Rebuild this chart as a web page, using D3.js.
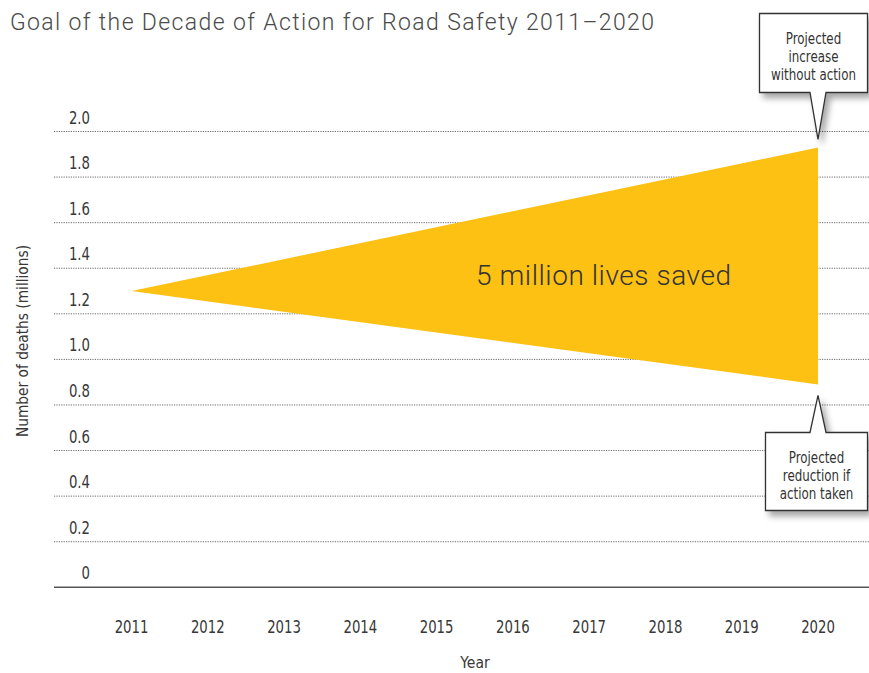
<!DOCTYPE html>
<html>
<head>
<meta charset="utf-8">
<script src="https://cdn.jsdelivr.net/npm/d3@7"></script>
<style>
  html, body { margin: 0; padding: 0; background: #fff; }
  svg { display: block; }
  .cond { font-family: "Liberation Sans Narrow", "DejaVu Sans Condensed", "Roboto Condensed", sans-serif; }
  .din { font-family: Roboto, "DejaVu Sans", sans-serif; font-weight: 300; }
</style>
</head>
<body>
<svg id="chart" width="869" height="673"></svg>
<script>
// ---- data ----
const years = [2011, 2012, 2013, 2014, 2015, 2016, 2017, 2018, 2019, 2020];
const yTicks = [0, 0.2, 0.4, 0.6, 0.8, 1.0, 1.2, 1.4, 1.6, 1.8, 2.0];
const yTickLabels = ["0", "0.2", "0.4", "0.6", "0.8", "1.0", "1.2", "1.4", "1.6", "1.8", "2.0"];
const projYears = [2011, 2020];
const withoutAction = [1.3, 1.93];   // projected increase without action (millions)
const withAction = [1.3, 0.89];      // projected reduction if action taken (millions)
const titleText = "Goal of the Decade of Action for Road Safety 2011\u20132020";
const areaLabel = "5 million lives saved";
const calloutTop = ["Projected", "increase", "without action"];
const calloutBottom = ["Projected", "reduction if", "action taken"];

// ---- layout ----
const svg = d3.select("#chart");
const x = d3.scaleLinear().domain([2011, 2020]).range([131.5, 818]);
const y = d3.scaleLinear().domain([0, 2]).range([587.3, 131.5]);
const gridX0 = 54, gridX1 = 869;

const defs = svg.append("defs");
const f = defs.append("filter").attr("id", "shadow")
  .attr("x", "-20%").attr("y", "-20%").attr("width", "160%").attr("height", "160%");
f.append("feDropShadow").attr("dx", 4).attr("dy", 5).attr("stdDeviation", 3)
  .attr("flood-color", "#000").attr("flood-opacity", 0.35);

// title
svg.append("text").attr("class", "din")
  .attr("x", 10).attr("y", 30)
  .attr("font-size", 23).attr("fill", "#4a4a4a")
  .attr("textLength", 644).attr("lengthAdjust", "spacing")
  .text(titleText);

// gridlines
svg.append("g").selectAll("line").data(yTicks.filter(d => d > 0)).join("line")
  .attr("x1", gridX0).attr("x2", gridX1)
  .attr("y1", d => y(d)).attr("y2", d => y(d))
  .attr("stroke", "#6a6a6a").attr("stroke-width", 1)
  .attr("stroke-dasharray", "1.2,1.2");

// baseline
svg.append("line")
  .attr("x1", gridX0).attr("x2", gridX1)
  .attr("y1", y(0)).attr("y2", y(0))
  .attr("stroke", "#555").attr("stroke-width", 1.6);

// y tick labels
svg.append("g").selectAll("text").data(yTicks).join("text")
  .attr("class", "cond")
  .attr("transform", d => `translate(90,${y(d) - 8}) scale(0.82,1)`)
  .attr("text-anchor", "end")
  .attr("font-size", 18).attr("fill", "#383838")
  .text((d, i) => yTickLabels[i]);

// x tick labels
svg.append("g").selectAll("text").data(years).join("text")
  .attr("class", "cond")
  .attr("transform", d => `translate(${x(d)},633) scale(0.82,1)`)
  .attr("text-anchor", "middle")
  .attr("font-size", 18).attr("fill", "#383838")
  .text(d => d);

// axis titles
svg.append("text").attr("class", "cond")
  .attr("x", 475).attr("y", 668).attr("text-anchor", "middle")
  .attr("font-size", 15.5).attr("fill", "#383838").text("Year");
svg.append("text").attr("class", "cond")
  .attr("transform", "translate(28,341) rotate(-90)")
  .attr("text-anchor", "middle")
  .attr("font-size", 15.5).attr("fill", "#383838")
  .attr("textLength", 192).attr("lengthAdjust", "spacingAndGlyphs")
  .text("Number of deaths (millions)");

// projection area
const pts = projYears.map((yr, i) => ({ yr, hi: withoutAction[i], lo: withAction[i] }));
const area = d3.area().x(d => x(d.yr)).y0(d => y(d.lo)).y1(d => y(d.hi));
svg.append("path").datum(pts).attr("d", area).attr("fill", "#FDC114");

svg.append("text").attr("class", "din")
  .attr("x", 476).attr("y", 285)
  .attr("font-size", 28).attr("fill", "#333")
  .attr("textLength", 255).attr("lengthAdjust", "spacing")
  .text(areaLabel);

// callouts
function callout(lines, box, tip, pointerUp) {
  const g = svg.append("g");
  const [bx0, by0, bx1, by1] = box;
  const [tx, ty] = tip;
  const pl = tx - 8, pr = tx + 8;
  let d;
  if (!pointerUp) {
    d = `M${bx0},${by0} H${bx1} V${by1} H${pr} L${tx},${ty} L${pl},${by1} H${bx0} Z`;
  } else {
    d = `M${bx0},${by0} H${pl} L${tx},${ty} L${pr},${by0} H${bx1} V${by1} H${bx0} Z`;
  }
  g.append("path").attr("d", d)
    .attr("fill", "#fff").attr("stroke", "#333").attr("stroke-width", 1.3)
    .attr("stroke-linejoin", "miter")
    .attr("filter", "url(#shadow)");
  const cx = (bx0 + bx1) / 2;
  g.selectAll("text").data(lines).join("text")
    .attr("class", "cond")
    .attr("transform", (dd, i) => `translate(${cx},${by0 + 30 + i * 18}) scale(0.88,1)`)
    .attr("text-anchor", "middle")
    .attr("font-size", 15).attr("fill", "#333")
    .text(dd => dd);
}
const tipX = x(2020);
callout(calloutTop, [759.5, 13.5, 867.5, 92.5], [tipX, y(withoutAction[1]) - 8], false);
callout(calloutBottom, [765.5, 432.5, 867.5, 510.5], [tipX, y(withAction[1]) + 11], true);
</script>
</body>
</html>
